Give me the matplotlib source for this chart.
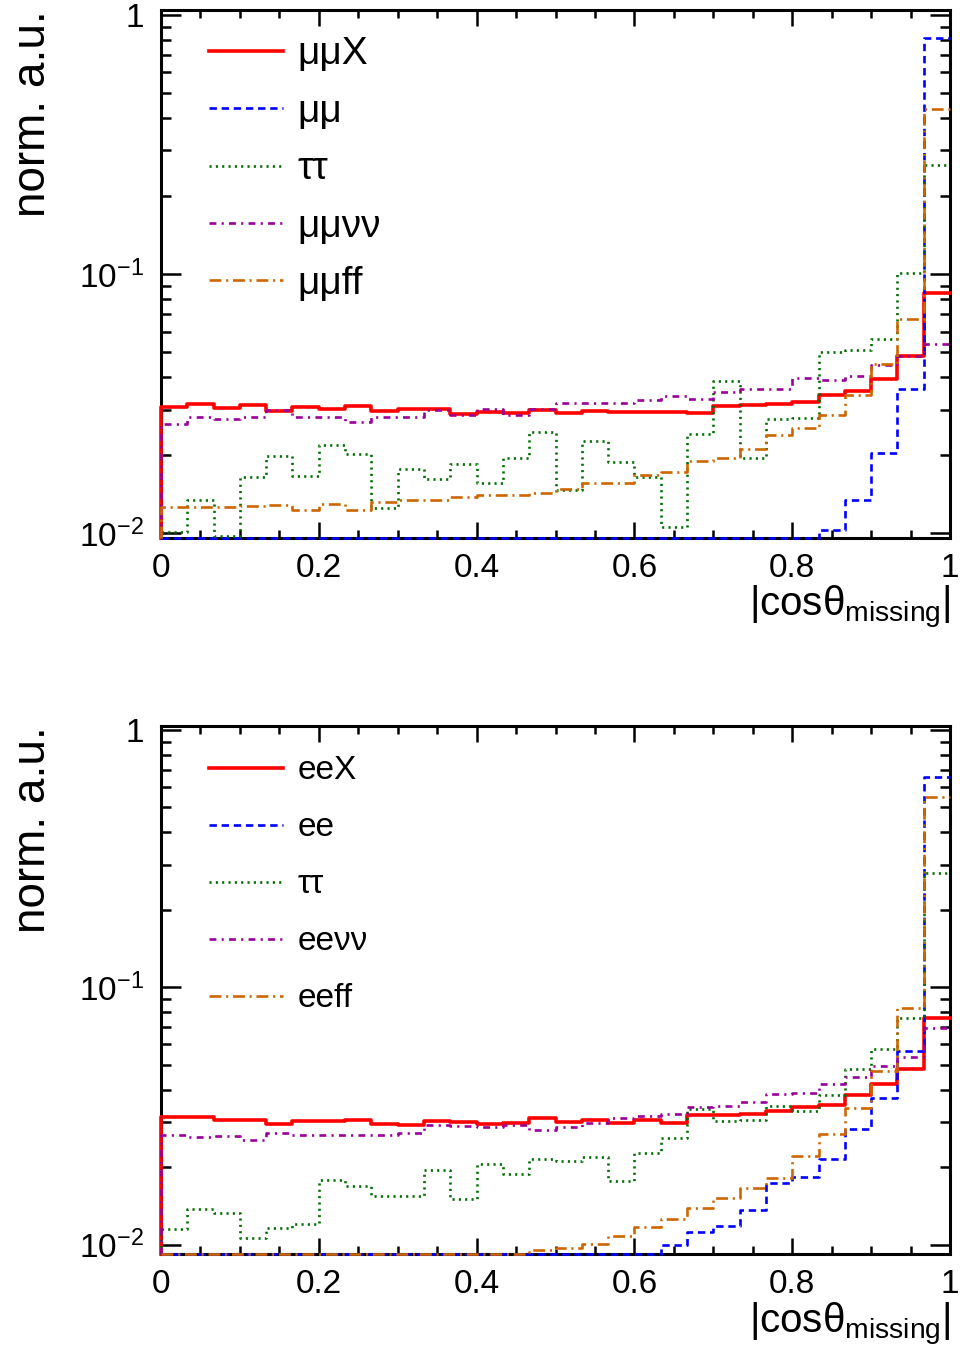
import numpy as np
import matplotlib
matplotlib.use("Agg")
import matplotlib.pyplot as plt
from matplotlib.ticker import FixedLocator, NullFormatter, MultipleLocator

plt.rcParams['font.family'] = ['Liberation Sans', 'DejaVu Sans']
plt.rcParams['mathtext.fontset'] = 'custom'
plt.rcParams['mathtext.rm'] = 'Liberation Sans'
plt.rcParams['mathtext.it'] = 'Liberation Sans'

# 30 bins of |cos theta_missing| from 0 to 1
n_bins = 30
bin_edges = np.linspace(0.0, 1.0, n_bins + 1)

# top panel: muon channel
mm_labels = ['μμX', 'μμ', 'ττ', 'μμνν', 'μμff']
mm_X = [0.0307, 0.0315, 0.0305, 0.0312, 0.0296, 0.0307, 0.0301, 0.0309, 0.0296, 0.0302,
        0.0301, 0.0289, 0.0293, 0.0292, 0.0298, 0.0292, 0.0296, 0.0293, 0.0294, 0.0293,
        0.0290, 0.0309, 0.0312, 0.0315, 0.0321, 0.0343, 0.0353, 0.0393, 0.0482, 0.0847]
mm_mm = [0.0, 0.0, 0.0, 0.0, 0.0, 0.0, 0.0, 0.0, 0.0, 0.0,
         0.0, 0.0, 0.0, 0.0, 0.0, 0.0, 0.0, 0.0, 0.0, 0.0,
         0.0, 0.0, 0.0, 0.0, 0.0, 0.0103, 0.0135, 0.0205, 0.0359, 0.817]
mm_tautau = [0.0101, 0.0135, 0.0098, 0.0165, 0.0198, 0.0166, 0.0219, 0.0203, 0.0125, 0.0177,
             0.0162, 0.0186, 0.0156, 0.0195, 0.0246, 0.0147, 0.0227, 0.0189, 0.0165, 0.0106,
             0.0241, 0.0387, 0.0196, 0.0275, 0.0279, 0.0501, 0.0509, 0.0562, 0.1006, 0.264]
mm_mmnn = [0.0264, 0.0281, 0.0275, 0.0280, 0.0298, 0.0281, 0.0281, 0.0269, 0.0281, 0.0281,
           0.0298, 0.0286, 0.0301, 0.0287, 0.0302, 0.0319, 0.0317, 0.0319, 0.0328, 0.0339,
           0.0331, 0.0351, 0.0362, 0.0362, 0.0396, 0.0390, 0.0405, 0.0445, 0.0482, 0.0540]
mm_mmff = [0.0126, 0.0126, 0.0126, 0.0128, 0.0129, 0.0123, 0.0130, 0.0123, 0.0132, 0.0134,
           0.0134, 0.0138, 0.0141, 0.0141, 0.0143, 0.0148, 0.0156, 0.0157, 0.0168, 0.0173,
           0.0191, 0.0196, 0.0211, 0.0239, 0.0254, 0.0286, 0.0343, 0.0452, 0.0670, 0.434]

# bottom panel: electron channel
ee_labels = ['eeX', 'ee', 'ττ', 'eeνν', 'eeff']
ee_X = [0.0313, 0.0313, 0.0305, 0.0305, 0.0294, 0.0302, 0.0302, 0.0304, 0.0294, 0.0292,
        0.0302, 0.0299, 0.0294, 0.0296, 0.0310, 0.0299, 0.0306, 0.0296, 0.0306, 0.0297,
        0.0319, 0.0320, 0.0323, 0.0330, 0.0343, 0.0350, 0.0382, 0.0420, 0.0480, 0.0762]
ee_ee = [0.0, 0.0, 0.0, 0.0, 0.0, 0.0, 0.0, 0.0, 0.0, 0.0,
         0.0, 0.0, 0.0, 0.0, 0.0, 0.0, 0.0, 0.0, 0.0, 0.0100,
         0.0112, 0.0118, 0.0136, 0.0173, 0.0183, 0.0215, 0.0281, 0.0371, 0.0566, 0.655]
ee_tautau = [0.0115, 0.0138, 0.0133, 0.0106, 0.0116, 0.0120, 0.0178, 0.0169, 0.0155, 0.0155,
             0.0195, 0.0151, 0.0206, 0.0189, 0.0216, 0.0211, 0.0220, 0.0177, 0.0228, 0.0260,
             0.0336, 0.0302, 0.0304, 0.0346, 0.0331, 0.0382, 0.0481, 0.0577, 0.0758, 0.277]
ee_eenn = [0.0268, 0.0263, 0.0265, 0.0255, 0.0271, 0.0268, 0.0266, 0.0266, 0.0268, 0.0272,
           0.0291, 0.0290, 0.0287, 0.0291, 0.0279, 0.0287, 0.0296, 0.0310, 0.0316, 0.0322,
           0.0342, 0.0346, 0.0360, 0.0385, 0.0389, 0.0420, 0.0447, 0.0494, 0.0535, 0.0693]
ee_eeff = [0.0, 0.0, 0.0, 0.0, 0.0, 0.0, 0.0, 0.0, 0.0, 0.0,
           0.0, 0.0, 0.0, 0.0, 0.0095, 0.0097, 0.0101, 0.0108, 0.0117, 0.0126,
           0.0139, 0.0152, 0.0166, 0.0181, 0.0222, 0.0269, 0.0339, 0.0473, 0.0833, 0.547]

colors = ['#ff0000', '#0000ff', '#006e00', '#990099', '#cc6600']
widths = [2.6, 1.9, 1.9, 1.9, 1.9]
styles = ['-', (0, (2.8, 1.8)), (0, (0.8, 1.6)), (0, (2.6, 2.0, 0.8, 2.0)), (0, (4.5, 1.8, 0.8, 1.8))]

x_ticks = [0.0, 0.2, 0.4, 0.6, 0.8, 1.0]
x_ticklabels = ['0', '0.2', '0.4', '0.6', '0.8', '1']
y_ticks = [0.01, 0.1, 1.0]
y_ticklabels = ['10$^{-2}$', '10$^{-1}$', '1']


def draw_panel(ax, series, labels, ymin, ymax, leg_size, leg_y, leg_spacing, leg_hlen, leg_pad):
    for vals, lab, c, lw, ls in zip(series, labels, colors, widths, styles):
        # ROOT-like: empty / underflowing bins sit on the lower frame
        v = np.clip(np.asarray(vals, dtype=float), ymin, None)
        ax.step(np.r_[bin_edges[0], bin_edges], np.r_[ymin, v, v[-1]], where='post',
                color=c, lw=lw, ls=ls, label=lab, clip_on=False, zorder=5)
    ax.set_yscale('log')
    ax.set_xlim(0, 1)
    ax.set_ylim(ymin, ymax)

    ax.xaxis.set_major_locator(FixedLocator(x_ticks))
    ax.set_xticklabels(x_ticklabels)
    ax.xaxis.set_minor_locator(MultipleLocator(0.05))
    ax.yaxis.set_major_locator(FixedLocator(y_ticks))
    ax.set_yticklabels(y_ticklabels)
    ax.yaxis.set_minor_locator(FixedLocator([k * 10.0 ** e for e in (-2, -1) for k in range(2, 10)]))
    ax.yaxis.set_minor_formatter(NullFormatter())

    ax.tick_params(which='both', direction='in', top=True, right=True, width=1.8, colors='black')
    ax.tick_params(axis='x', which='major', length=11.5, pad=11, labelsize=24)
    ax.tick_params(axis='x', which='minor', length=5.5)
    ax.tick_params(axis='y', which='major', length=14.5, pad=12, labelsize=24)
    ax.tick_params(axis='y', which='minor', length=7.5)
    for sp in ax.spines.values():
        sp.set_linewidth(2.2)
        sp.set_zorder(4)

    ax.set_ylabel('norm. a.u.', loc='top', fontsize=33)
    ax.yaxis.set_label_coords(-0.134, 1.0)
    ax.set_xlabel('|cosθ$_{\\rm missing}$|', loc='right', fontsize=29)
    ax.xaxis.set_label_coords(1.0, -0.088)

    ax.legend(loc='upper left', bbox_to_anchor=(0.0605, leg_y), frameon=False,
              fontsize=leg_size, handlelength=leg_hlen, handletextpad=leg_pad,
              labelspacing=leg_spacing, borderpad=0, borderaxespad=0)


fig = plt.figure(figsize=(9.6, 13.64), dpi=100)
ax_top = fig.add_axes([0.1677, 0.6056, 0.8219, 0.3871])
ax_bot = fig.add_axes([0.1677, 0.0806, 0.8219, 0.3871])

draw_panel(ax_top, [mm_X, mm_mm, mm_tautau, mm_mmnn, mm_mmff], mm_labels,
           0.0096, 1.045, 28, 0.950, 0.55, 1.9, 0.39)
draw_panel(ax_bot, [ee_X, ee_ee, ee_tautau, ee_eenn, ee_eeff], ee_labels,
           0.0092, 1.036, 24, 0.9447, 0.78, 2.22, 0.45)

fig.savefig('out.png', dpi=100)
